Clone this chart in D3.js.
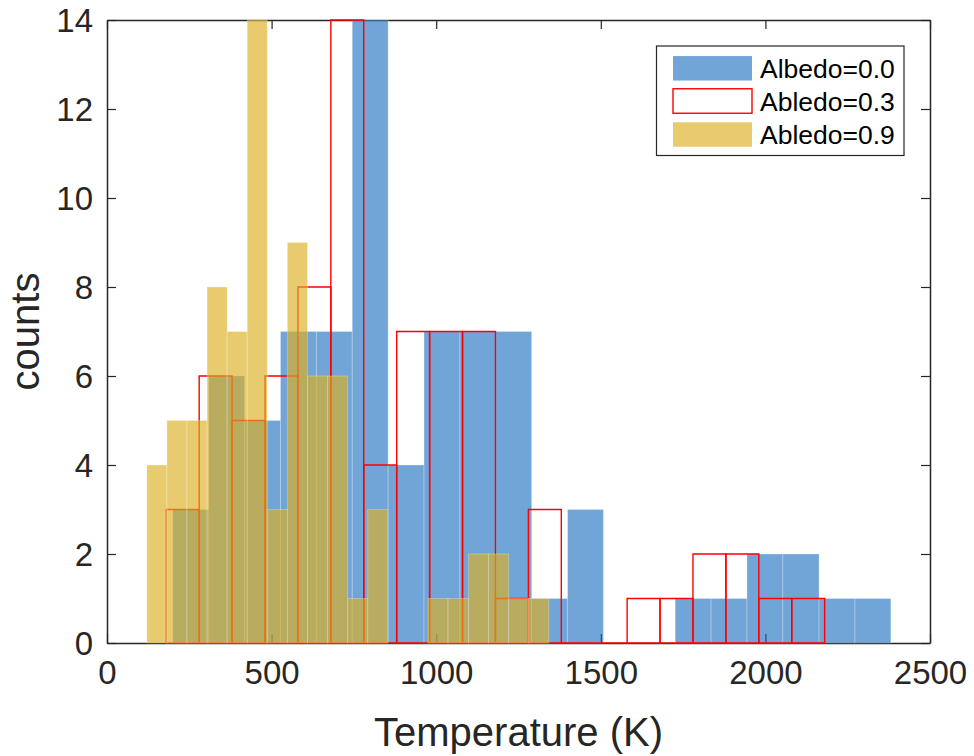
<!DOCTYPE html>
<html>
<head>
<meta charset="utf-8">
<script src="https://cdn.jsdelivr.net/npm/d3@7"></script>
<style>
  html, body { margin: 0; padding: 0; background: #fff; }
  svg { display: block; font-family: "Liberation Sans", Arial, Helvetica, sans-serif; }
</style>
</head>
<body>
<svg id="chart" width="974" height="756"></svg>
<script>
// ---- data ----
const xTicks = [0, 500, 1000, 1500, 2000, 2500];
const yTicks = [0, 2, 4, 6, 8, 10, 12, 14];

const seriesNames = ["Albedo=0.0", "Abledo=0.3", "Abledo=0.9"];

// Albedo = 0.0 (blue, filled)
const edgesA00 = [200, 309, 418, 527, 636, 745, 854, 963, 1072, 1181, 1290, 1399, 1508, 1617, 1726, 1835, 1944, 2053, 2163, 2272, 2381];
const countsA00 = [3, 6, 5, 7, 7, 14, 4, 7, 7, 7, 1, 3, 0, 0, 1, 1, 2, 2, 1, 1];

// Albedo = 0.3 (red outline)
const edgesA03 = [180, 280, 380, 480, 580, 680, 780, 880, 980, 1080, 1180, 1280, 1380, 1480, 1580, 1680, 1780, 1880, 1980, 2080, 2180];
const countsA03 = [3, 6, 5, 6, 8, 14, 4, 7, 7, 7, 1, 3, 0, 0, 1, 1, 2, 2, 1, 1];

// Albedo = 0.9 (yellow, filled)
const edgesA09 = [121, 182, 243, 304, 365, 426, 487, 548, 609, 670, 731, 792, 853, 914, 975, 1036, 1098, 1159, 1220, 1281, 1342];
const countsA09 = [4, 5, 5, 8, 7, 14, 3, 9, 6, 6, 1, 3, 0, 0, 1, 1, 2, 2, 1, 1];

// ---- layout ----
const svg = d3.select("#chart");
const mLeft = 107, mRight = 930, mTop = 20, mBottom = 643;
const x = d3.scaleLinear().domain([0, 2500]).range([mLeft, mRight]);
const y = d3.scaleLinear().domain([0, 14]).range([mBottom, mTop]);
const axisColor = "#262626";
const blueFill = "rgb(20,105,188)", blueAlpha = 0.6;
const yellowFill = "rgb(220,175,32)", yellowAlpha = 0.65;
const redStroke = "#ff0000";

function bins(edges, counts) {
  return counts.map((c, i) => ({ x0: edges[i], x1: edges[i + 1], c }));
}

// ---- axes (drawn under data, like MATLAB Layer=bottom) ----
const gAx = svg.append("g");
const tickLen = 9;
const xb = d3.axisBottom(x).tickValues(xTicks).tickSizeInner(-tickLen).tickSizeOuter(0).tickPadding(18).tickFormat(d3.format("d"));
const gxb = gAx.append("g").attr("transform", `translate(0,${mBottom})`).call(xb);
const xt = d3.axisTop(x).tickValues(xTicks).tickSizeInner(-tickLen).tickSizeOuter(0).tickFormat("");
const gxt = gAx.append("g").attr("transform", `translate(0,${mTop})`).call(xt);
const yl = d3.axisLeft(y).tickValues(yTicks).tickSizeInner(-tickLen).tickSizeOuter(0).tickPadding(14).tickFormat(d3.format("d"));
const gyl = gAx.append("g").attr("transform", `translate(${mLeft},0)`).call(yl);
const yr = d3.axisRight(y).tickValues(yTicks).tickSizeInner(-tickLen).tickSizeOuter(0).tickFormat("");
const gyr = gAx.append("g").attr("transform", `translate(${mRight},0)`).call(yr);

[gxb, gxt, gyl, gyr].forEach(g => {
  g.select(".domain").attr("stroke", axisColor).attr("stroke-width", 1.5);
  g.selectAll(".tick line").attr("stroke", axisColor).attr("stroke-width", 1.2);
  g.selectAll(".tick text").attr("fill", axisColor).attr("font-size", 33)
    .attr("font-family", '"Liberation Sans", Arial, sans-serif');
});
gxb.selectAll(".tick text").attr("dy", "0.71em");
gyl.selectAll(".tick text").attr("dy", "0.36em");

// ---- bars ----
function barPath(d) {
  const x0 = x(d.x0), x1 = x(d.x1), y0 = y(0), y1 = y(d.c);
  return `M${x0},${y0}V${y1}H${x1}V${y0}Z`;
}

// Albedo 0.0
svg.append("g").selectAll("rect")
  .data(bins(edgesA00, countsA00).filter(d => d.c > 0))
  .join("rect")
  .attr("x", d => x(d.x0)).attr("width", d => x(d.x1) - x(d.x0))
  .attr("y", d => y(d.c)).attr("height", d => y(0) - y(d.c))
  .attr("fill", blueFill).attr("fill-opacity", blueAlpha)
  .attr("stroke", "#ffffff").attr("stroke-opacity", 0.25).attr("stroke-width", 1);

// Albedo 0.3
svg.append("g").selectAll("path")
  .data(bins(edgesA03, countsA03))
  .join("path")
  .attr("d", barPath)
  .attr("fill", "none").attr("stroke", redStroke).attr("stroke-width", 1.4);

// Albedo 0.9
svg.append("g").selectAll("rect")
  .data(bins(edgesA09, countsA09).filter(d => d.c > 0))
  .join("rect")
  .attr("x", d => x(d.x0)).attr("width", d => x(d.x1) - x(d.x0))
  .attr("y", d => y(d.c)).attr("height", d => y(0) - y(d.c))
  .attr("fill", yellowFill).attr("fill-opacity", yellowAlpha)
  .attr("stroke", "#ffffff").attr("stroke-opacity", 0.25).attr("stroke-width", 1);

// ---- axis labels ----
svg.append("text")
  .attr("x", (mLeft + mRight) / 2).attr("y", 746)
  .attr("text-anchor", "middle").attr("font-size", 40).attr("fill", axisColor)
  .text("Temperature (K)");
svg.append("text")
  .attr("transform", `translate(39,${(mTop + mBottom) / 2}) rotate(-90)`)
  .attr("text-anchor", "middle").attr("font-size", 40).attr("fill", axisColor)
  .text("counts");

// ---- legend ----
const lg = svg.append("g");
lg.append("rect").attr("x", 656.5).attr("y", 46).attr("width", 247.5).attr("height", 109.5)
  .attr("fill", "#fff").attr("stroke", axisColor).attr("stroke-width", 1.2);
const rowsY = [68.3, 101, 134.5];
const swX = 673, swW = 79, swH = 24.5;
seriesNames.forEach((name, i) => {
  const cy = rowsY[i];
  const r = lg.append("rect").attr("x", swX).attr("y", cy - swH / 2).attr("width", swW).attr("height", swH);
  if (i === 0) r.attr("fill", blueFill).attr("fill-opacity", blueAlpha);
  else if (i === 1) r.attr("fill", "none").attr("stroke", redStroke).attr("stroke-width", 1.4);
  else r.attr("fill", yellowFill).attr("fill-opacity", yellowAlpha);
  lg.append("text").attr("x", 760).attr("y", cy).attr("dy", "0.36em")
    .attr("font-size", 26.5).attr("fill", "#000").text(name);
});
</script>
</body>
</html>
